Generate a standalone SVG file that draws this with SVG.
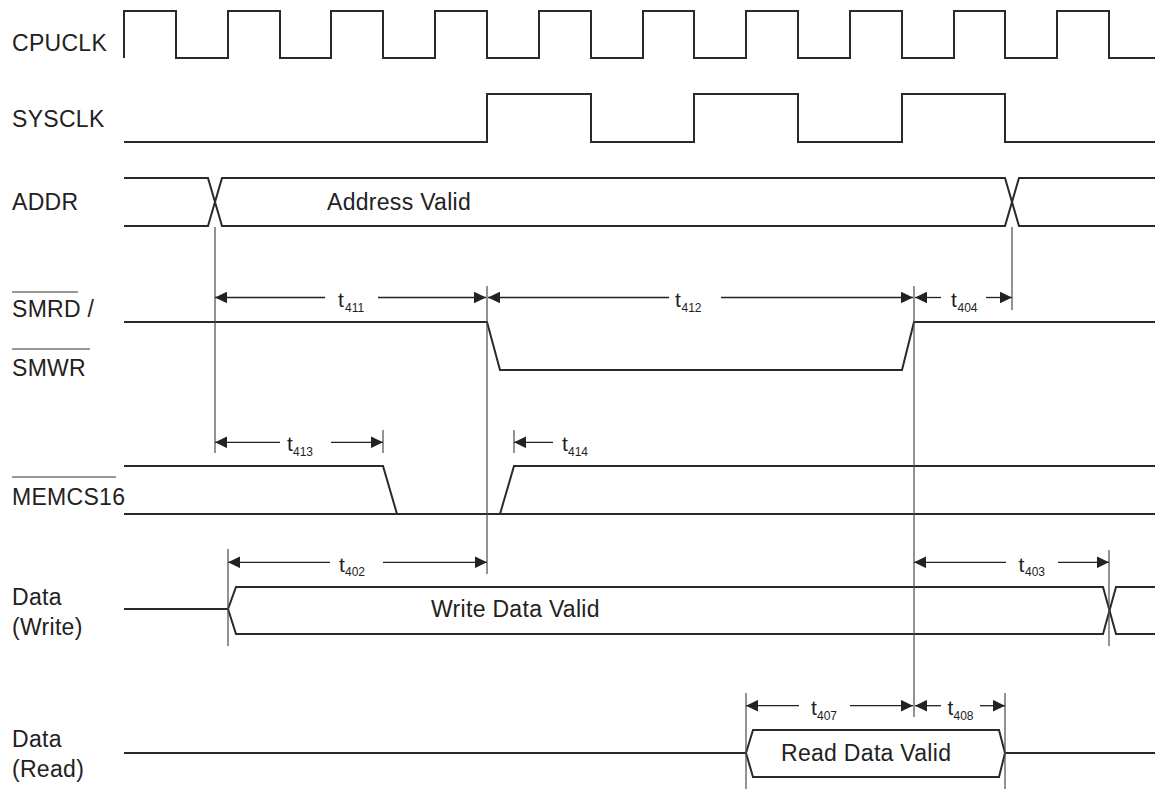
<svg xmlns="http://www.w3.org/2000/svg" width="1155" height="789" viewBox="0 0 1155 789">
<style>
.sig{fill:none;stroke:#2a2a2a;stroke-width:2;stroke-linejoin:miter}
.ref{fill:none;stroke:#4a4a4a;stroke-width:1.2}
.dim{fill:none;stroke:#222;stroke-width:1.3}
.lbl{font-family:"Liberation Sans",Arial,sans-serif;font-size:23px;fill:#222;letter-spacing:0.3px}
.t{font-family:"Liberation Sans",Arial,sans-serif;font-size:21px;fill:#222}
.sub{font-family:"Liberation Sans",Arial,sans-serif;font-size:12px;fill:#222}
.ov{stroke:#333;stroke-width:1.2}
</style>
<defs>
<marker id="arr" markerUnits="userSpaceOnUse" markerWidth="12" markerHeight="12" viewBox="0 0 11 10.6" refX="11" refY="5.3" orient="auto-start-reverse">
<path d="M0,0 L11,5.3 L0,10.6 z" fill="#222"/>
</marker>
</defs>
<rect width="1155" height="789" fill="#fff"/>

<g id="cpuclk">
<text class="lbl" x="12" y="50.5">CPUCLK</text>
<path class="sig" d="M124,58 V11 H176 V58 H228 V11 H280 V58 H331 V11 H383 V58 H435 V11 H487 V58 H539 V11 H591 V58 H643 V11 H694 V58 H746 V11 H798 V58 H850 V11 H902 V58 H954 V11 H1005 V58 H1057 V11 H1109 V58 H1155"/>
</g>

<g id="sysclk">
<text class="lbl" x="12" y="127">SYSCLK</text>
<path class="sig" d="M124,142 H487 V94 H591 V142 H694 V94 H798 V142 H902 V94 H1005 V142 H1155"/>
</g>

<g id="addr">
<text class="lbl" x="12" y="210">ADDR</text>
<path class="sig" d="M124,178 H208 L222,226 H1005 L1019,178 H1155"/>
<path class="sig" d="M124,226 H208 L222,178 H1005 L1019,226 H1155"/>
<path class="sig" stroke-width="3" d="M1115,178 H1155 M1115,226 H1155"/>
<text class="lbl" x="327" y="210">Address Valid</text>
</g>

<g id="smrd">
<text class="lbl" x="12" y="317">SMRD /</text>
<line class="ov" x1="12" y1="292" x2="78" y2="292"/>
<text class="lbl" x="12" y="376">SMWR</text>
<line class="ov" x1="12" y1="349" x2="90" y2="349"/>
<path class="sig" d="M124,322 H487 L500,370 H902 L914,322 H1155"/>
</g>

<g id="memcs16">
<text class="lbl" x="12" y="505">MEMCS16</text>
<line class="ov" x1="12" y1="477" x2="116" y2="477"/>
<path class="sig" d="M124,466 H383 L397,514"/>
<path class="sig" d="M500,514 L514,466 H1155"/>
<path class="sig" d="M124,514 H1155"/>
</g>

<g id="data-write">
<text class="lbl" x="12" y="604.5">Data</text>
<text class="lbl" x="12" y="634.5">(Write)</text>
<path class="sig" d="M124,609 H228 L236,587 H1103 L1116,634 H1155"/>
<path class="sig" d="M228,609 L236,634 H1103 L1116,587 H1155"/>
<text class="lbl" x="431" y="617">Write Data Valid</text>
</g>

<g id="data-read">
<text class="lbl" x="12" y="747">Data</text>
<text class="lbl" x="12" y="777">(Read)</text>
<path class="sig" d="M124,753 H746 L753,730 H999 L1005,753 H1155"/>
<path class="sig" d="M746,753 L753,777 H999 L1005,753"/>
<text class="lbl" x="781" y="761">Read Data Valid</text>
</g>

<g id="connectors">
<line class="ref" x1="215" y1="227" x2="215" y2="453"/>
<line class="ref" x1="487" y1="286" x2="487" y2="574"/>
<line class="ref" x1="914" y1="286" x2="914" y2="717"/>
<line class="ref" x1="1012" y1="227" x2="1012" y2="310"/>
<line class="ref" x1="383" y1="430" x2="383" y2="453"/>
<line class="ref" x1="514" y1="430" x2="514" y2="453"/>
<line class="ref" x1="228" y1="549" x2="228" y2="646"/>
<line class="ref" x1="1109" y1="550" x2="1109" y2="646"/>
<line class="ref" x1="746" y1="693" x2="746" y2="789"/>
<line class="ref" x1="1005" y1="693" x2="1005" y2="789"/>

<line class="dim" x1="215" y1="297.5" x2="325" y2="297.5" marker-start="url(#arr)"/>
<line class="dim" x1="378" y1="297.5" x2="486" y2="297.5" marker-end="url(#arr)"/>
<line class="dim" x1="488" y1="297.5" x2="669" y2="297.5" marker-start="url(#arr)"/>
<line class="dim" x1="721" y1="297.5" x2="913" y2="297.5" marker-end="url(#arr)"/>
<line class="dim" x1="915" y1="297.5" x2="941" y2="297.5" marker-start="url(#arr)"/>
<line class="dim" x1="986" y1="297.5" x2="1012" y2="297.5" marker-end="url(#arr)"/>

<line class="dim" x1="215" y1="442.3" x2="280" y2="442.3" marker-start="url(#arr)"/>
<line class="dim" x1="331" y1="442.3" x2="383" y2="442.3" marker-end="url(#arr)"/>
<line class="dim" x1="514" y1="442.3" x2="553" y2="442.3" marker-start="url(#arr)"/>

<line class="dim" x1="228" y1="562.3" x2="330" y2="562.3" marker-start="url(#arr)"/>
<line class="dim" x1="383" y1="562.3" x2="487" y2="562.3" marker-end="url(#arr)"/>
<line class="dim" x1="914" y1="562.3" x2="1006" y2="562.3" marker-start="url(#arr)"/>
<line class="dim" x1="1058" y1="562.3" x2="1109" y2="562.3" marker-end="url(#arr)"/>

<line class="dim" x1="746" y1="705.7" x2="799" y2="705.7" marker-start="url(#arr)"/>
<line class="dim" x1="850" y1="705.7" x2="913" y2="705.7" marker-end="url(#arr)"/>
<line class="dim" x1="915" y1="705.7" x2="941" y2="705.7" marker-start="url(#arr)"/>
<line class="dim" x1="980" y1="705.7" x2="1005" y2="705.7" marker-end="url(#arr)"/>

<text class="t" x="338" y="307">t</text><text class="sub" x="345" y="311.5">411</text>
<text class="t" x="675" y="307">t</text><text class="sub" x="681.5" y="311.5">412</text>
<text class="t" x="951" y="307">t</text><text class="sub" x="957.5" y="311.5">404</text>
<text class="t" x="287" y="451">t</text><text class="sub" x="293" y="456">413</text>
<text class="t" x="562" y="451">t</text><text class="sub" x="568" y="456">414</text>
<text class="t" x="339" y="571.5">t</text><text class="sub" x="345" y="576">402</text>
<text class="t" x="1018.5" y="571.5">t</text><text class="sub" x="1025" y="576">403</text>
<text class="t" x="811" y="715">t</text><text class="sub" x="817" y="719.5">407</text>
<text class="t" x="947.5" y="715">t</text><text class="sub" x="953.5" y="719.5">408</text>
</g>
</svg>
